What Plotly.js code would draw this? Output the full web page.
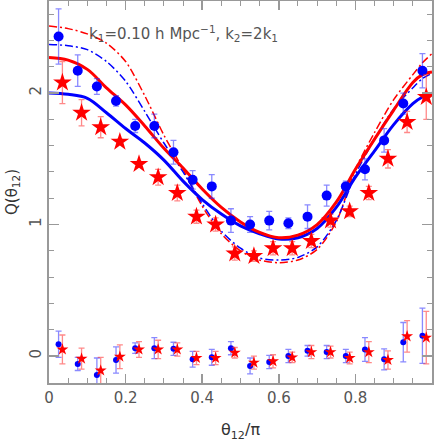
<!DOCTYPE html>
<html>
<head>
<meta charset="utf-8">
<script src="https://cdn.plot.ly/plotly-3.0.1.min.js"></script>
<style>html,body{margin:0;padding:0;background:#fff;}#chart{width:436px;height:443px;}</style>
</head>
<body>
<div id="chart"></div>
<script>
// Bin centres (theta12 / pi)
const thetaBlue = [0.025,0.075,0.125,0.175,0.225,0.275,0.325,0.375,0.425,0.475,0.525,0.575,0.625,0.675,0.725,0.775,0.825,0.875,0.925,0.975];
const thetaRed  = [0.035,0.085,0.135,0.185,0.235,0.285,0.335,0.385,0.435,0.485,0.535,0.585,0.635,0.685,0.735,0.785,0.835,0.885,0.935,0.985];

// Measured Q (blue circles) and errors
const qBlue    = [2.43,2.17,2.05,1.94,1.75,1.75,1.55,1.34,1.29,1.03,1.00,1.03,1.01,1.06,1.22,1.29,1.42,1.64,1.92,2.17];
const qBlueErr = [0.21,0.12,0.06,0.04,0.05,0.09,0.09,0.07,0.09,0.09,0.06,0.07,0.04,0.09,0.08,0.04,0.08,0.09,0.08,0.13];
// Measured Q (red stars) and errors
const qRed     = [2.08,1.85,1.74,1.63,1.46,1.36,1.24,1.06,1.00,0.78,0.76,0.82,0.82,0.875,1.03,1.10,1.24,1.50,1.78,1.97];
const qRedErr  = [0.16,0.10,0.08,0.02,0.02,0.06,0.06,0.05,0.05,0.05,0.04,0.05,0.05,0.05,0.05,0.04,0.05,0.07,0.08,0.17];

// Residuals (bottom)
const resBlue    = [0.09,-0.06,-0.145,-0.03,0.06,0.06,0.055,-0.025,-0.01,0.06,-0.075,-0.045,0.0,0.04,0.03,0.0,0.05,-0.025,0.105,0.155];
const resBlueErr = [0.10,0.05,0.13,0.10,0.04,0.08,0.05,0.06,0.06,0.05,0.06,0.05,0.05,0.04,0.05,0.05,0.09,0.08,0.15,0.21];
const resRed     = [0.05,-0.02,-0.11,-0.005,0.05,0.05,0.05,-0.015,-0.015,0.025,-0.05,-0.04,-0.01,0.03,0.03,-0.015,0.03,-0.03,0.15,0.14];
const resRedErr  = [0.11,0.08,0.10,0.09,0.06,0.07,0.05,0.05,0.05,0.04,0.05,0.05,0.04,0.05,0.045,0.045,0.08,0.07,0.12,0.20];

// Model curves sampled along theta
const thetaCurve = [0,0.05,0.1,0.15,0.2,0.25,0.3,0.35,0.4,0.45,0.5,0.55,0.6,0.65,0.7,0.75,0.8,0.85,0.9,0.95,0.975,1.0];
const curveBlueSolid = [2.00,1.99,1.96,1.85,1.73,1.62,1.49,1.33,1.19,1.08,0.99,0.93,0.89,0.90,0.97,1.13,1.36,1.56,1.76,1.92,1.97,2.00];
const curveRedSolid  = [2.27,2.25,2.18,2.04,1.91,1.75,1.58,1.43,1.27,1.13,1.02,0.94,0.90,0.92,1.00,1.17,1.42,1.65,1.87,2.08,2.14,2.16];
const curveBlueDash  = [2.37,2.36,2.33,2.24,2.09,1.86,1.62,1.40,1.16,0.95,0.82,0.745,0.73,0.75,0.83,1.03,1.38,1.65,1.88,2.04,2.11,2.15];
const curveRedDash   = [2.51,2.49,2.45,2.38,2.24,1.98,1.68,1.42,1.14,0.93,0.80,0.73,0.71,0.73,0.81,1.02,1.42,1.70,1.95,2.14,2.23,2.30];

const BLUE = '#0000ff', RED = '#ff0000';
const traces = [
  {x: thetaCurve, y: curveRedDash, mode:'lines', line:{color:RED, width:1.5, dash:'8px,3px,2px,3px', shape:'spline', smoothing:0.8}, hoverinfo:'skip', showlegend:false},
  {x: thetaCurve, y: curveBlueDash, mode:'lines', line:{color:BLUE, width:1.5, dash:'8px,3px,2px,3px', shape:'spline', smoothing:0.8}, hoverinfo:'skip', showlegend:false},
  {x: thetaCurve, y: curveBlueSolid, mode:'lines', line:{color:BLUE, width:3, shape:'spline'}, showlegend:false},
  {x: thetaCurve, y: curveRedSolid, mode:'lines', line:{color:RED, width:3, shape:'spline'}, showlegend:false},
  {x: thetaBlue, y: qBlue, mode:'markers', marker:{color:BLUE, size:10, symbol:'circle'},
   error_y:{type:'data', array:qBlueErr, color:'rgba(40,40,255,0.55)', thickness:1.3, width:3}, showlegend:false},
  {x: thetaRed, y: qRed, mode:'markers', marker:{color:RED, size:14, symbol:'star'},
   error_y:{type:'data', array:qRedErr, color:'rgba(255,40,40,0.55)', thickness:1.3, width:3}, showlegend:false},
  {x: thetaBlue, y: resBlue, mode:'markers', marker:{color:BLUE, size:6, symbol:'circle'},
   error_y:{type:'data', array:resBlueErr, color:'rgba(40,40,255,0.55)', thickness:1.3, width:3}, showlegend:false},
  {x: thetaRed, y: resRed, mode:'markers', marker:{color:RED, size:9, symbol:'star'},
   error_y:{type:'data', array:resRedErr, color:'rgba(255,40,40,0.55)', thickness:1.3, width:3}, showlegend:false}
];

const FONT = 'DejaVu Sans, sans-serif';
const layout = {
  width: 436, height: 443,
  margin: {l:49, r:4, t:1, b:60},
  paper_bgcolor:'#fff', plot_bgcolor:'#fff',
  font: {family: FONT, color:'#555', size:14},
  xaxis: {
    range:[0,1], showgrid:false, zeroline:false,
    showline:true, linecolor:'#999', linewidth:2, mirror:'ticks',
    ticks:'inside', ticklen:9, tickcolor:'#999', tickwidth:1.5,
    tickvals:[0,0.2,0.4,0.6,0.8,1], ticktext:['0','0.2','0.4','0.6','0.8','1'],
    minor:{dtick:0.05, ticklen:5, tickcolor:'#999', ticks:'inside', tickwidth:1},
    tickfont:{size:15, color:'#555', family:FONT},
    title:{text:'θ<sub>12</sub>/π', font:{size:16, color:'#333', family:FONT}, standoff:18}
  },
  yaxis: {
    range:[-0.205,2.70], showgrid:false, zeroline:false,
    showline:true, linecolor:'#999', linewidth:2, mirror:'ticks',
    ticks:'inside', ticklen:10, tickcolor:'#999', tickwidth:1.5,
    tickvals:[0,1,2], ticktext:['0','1','2'], tickangle:-90,
    minor:{dtick:0.2, ticklen:5, tickcolor:'#999', ticks:'inside', tickwidth:1},
    tickfont:{size:15, color:'#555', family:FONT},
    title:{text:'Q(θ<sub>12</sub>)', font:{size:15, color:'#333', family:FONT}, standoff:6}
  },
  annotations: [{
    xref:'paper', yref:'paper', x:0.10, y:0.915, xanchor:'left', yanchor:'middle', showarrow:false,
    text:'k<sub>1</sub>=0.10 h Mpc<sup>−1</sup>, k<sub>2</sub>=2k<sub>1</sub>',
    font:{size:15, color:'#555', family:FONT}
  }]
};
Plotly.newPlot('chart', traces, layout, {displayModeBar:false, staticPlot:true});
</script>
</body>
</html>
